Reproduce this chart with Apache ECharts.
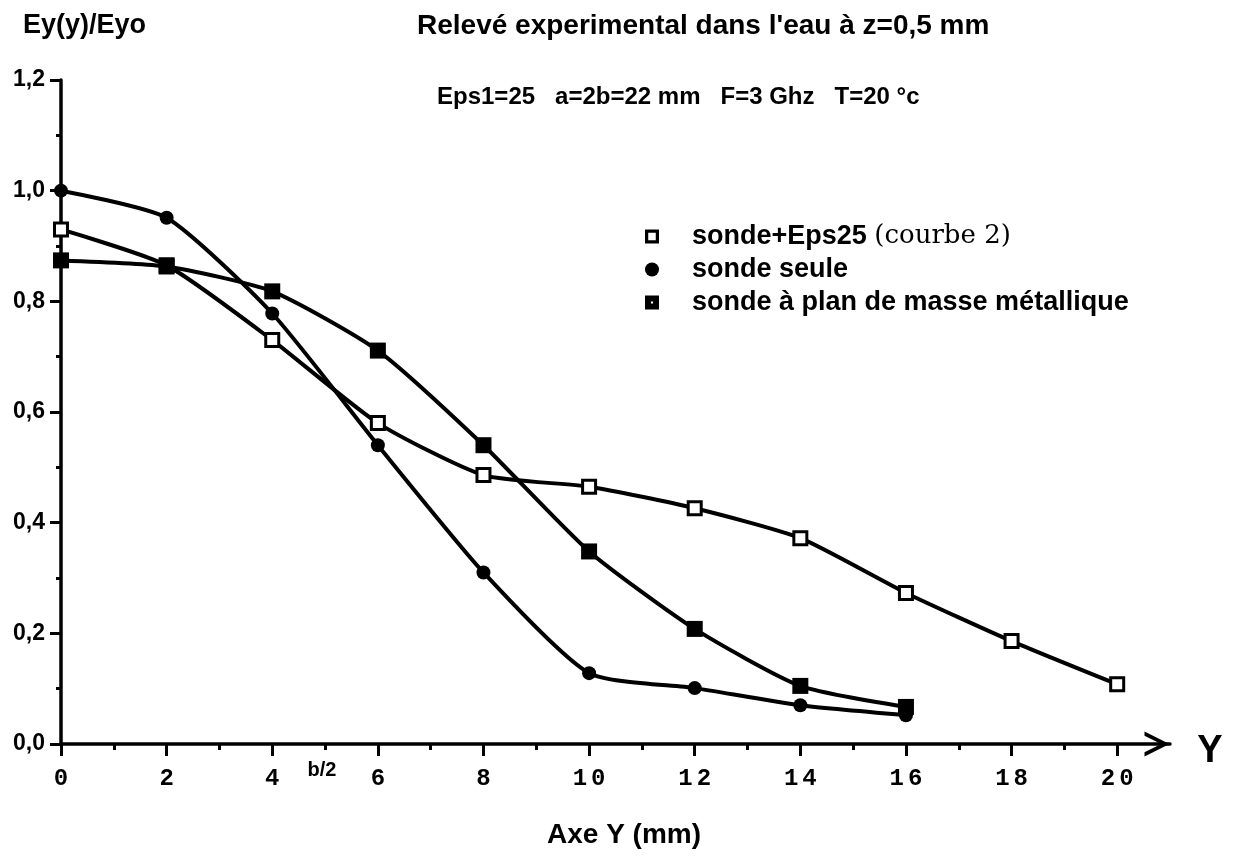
<!DOCTYPE html>
<html>
<head>
<meta charset="utf-8">
<script src="https://cdn.jsdelivr.net/npm/echarts@6/dist/echarts.min.js"></script>
<style>html,body{margin:0;padding:0;background:#fff}#c{width:1236px;height:862px}</style>
</head>
<body>
<div id="c"></div>
<script>
// ---- data ----
var xEps25 = [0, 2, 4, 6, 8, 10, 12, 14, 16, 18, 20];
var yEps25 = [0.93, 0.865, 0.73, 0.58, 0.486, 0.465, 0.426, 0.372, 0.273, 0.186, 0.108];
var xSeule = [0, 2, 4, 6, 8, 10, 12, 14, 16];
var ySeule = [1.0, 0.951, 0.778, 0.54, 0.31, 0.128, 0.101, 0.07, 0.052];
var xPlan = [0, 2, 4, 6, 8, 10, 12, 14, 16];
var yPlan = [0.874, 0.863, 0.818, 0.711, 0.54, 0.348, 0.208, 0.105, 0.067];
var seriesNames = ['sonde+Eps25', 'sonde seule', 'sonde à plan de masse métallique'];
var xTickLabels = [0, 2, 4, 6, 8, 10, 12, 14, 16, 18, 20];
var xMinorTicks = [1, 3, 5, 7, 9, 11, 13, 15, 17, 19];
var titleText = "Relevé experimental dans l'eau à z=0,5 mm";
var subText = 'Eps1=25   a=2b=22 mm   F=3 Ghz   T=20 °c';
var yName = 'Ey(y)/Eyo';
var xName = 'Axe Y (mm)';
var courbeNote = '(courbe 2)';
var halfB = 'b/2';
var axisEndName = 'Y';

function pairs(xs, ys) { return xs.map(function (x, i) { return [x, ys[i]]; }); }

var sans = 'Liberation Sans, Arial, sans-serif';
var mono = 'Liberation Mono, Courier New, monospace';
var chart = echarts.init(document.getElementById('c'), null, { renderer: 'canvas' });

var openIcon = 'path://M0,0H13V13H0Z M3,3V10H10V3Z';
var plateIcon = 'path://M0,0H13V13H0Z M5.5,5.5V7.5H7.5V5.5Z';
var chevron = 'path://M12,0 L24,24 L20,24 L12,8 L4,24 L0,24 Z';

var option = {
  animation: false,
  backgroundColor: '#fff',
  title: [
    { text: titleText, left: 417, top: 12, padding: 0, textStyle: { fontFamily: sans, fontWeight: 'bold', fontSize: 28, color: '#000' } },
    { text: subText, left: 437, top: 85, padding: 0, textStyle: { fontFamily: sans, fontWeight: 'bold', fontSize: 24, color: '#000' } },
    { text: yName, left: 23, top: 12, padding: 0, textStyle: { fontFamily: sans, fontWeight: 'bold', fontSize: 27, color: '#000' } },
    { text: xName, left: 547, top: 821, padding: 0, textStyle: { fontFamily: sans, fontWeight: 'bold', fontSize: 28, color: '#000' } }
  ],
  legend: {
    orient: 'vertical',
    left: 645,
    top: 223,
    padding: 0,
    itemGap: 6,
    itemWidth: 14,
    itemHeight: 14,
    selectedMode: false,
    itemStyle: { color: '#000', borderWidth: 0 },
    textStyle: {
      fontFamily: sans, fontWeight: 'bold', fontSize: 27, color: '#000', padding: [0, 0, 0, 28],
      rich: {
        a: { fontFamily: sans, fontWeight: 'bold', fontSize: 27, color: '#000' },
        b: { fontFamily: 'DejaVu Serif, serif', fontWeight: 'normal', fontSize: 26, color: '#000' }
      }
    },
    formatter: function (name) {
      if (name === seriesNames[0]) return '{a|' + name + '} {b|' + courbeNote + '}';
      return name;
    },
    data: [
      { name: seriesNames[0], icon: openIcon, itemStyle: { color: '#000', borderWidth: 0 } },
      { name: seriesNames[1], icon: 'circle', itemStyle: { color: '#000', borderWidth: 0 } },
      { name: seriesNames[2], icon: plateIcon, itemStyle: { color: '#000', borderWidth: 0 } }
    ]
  },
  grid: { left: 61, top: 80, right: 66, bottom: 118, containLabel: false },
  xAxis: [
    {
      type: 'value', min: 0, max: 21, interval: 1,
      axisLine: { show: true, lineStyle: { color: '#000', width: 3.5 }, symbol: ['none', chevron], symbolSize: [25, 27], symbolOffset: [0, -13] },
      axisTick: { show: true, customValues: xTickLabels, length: 12, lineStyle: { color: '#000', width: 3 } },
      axisLabel: {
        show: true, customValues: xTickLabels, margin: 23, fontFamily: mono, fontWeight: 'bold', fontSize: 24, color: '#000',
        formatter: function (v) { return String(v).split('').map(function (c) { return '{d|' + c + '}'; }).join(''); },
        rich: { d: { fontFamily: mono, fontWeight: 'bold', fontSize: 24, color: '#000', padding: [0, 2, 0, 2] } }
      },
      splitLine: { show: false }
    },
    {
      type: 'value', min: 0, max: 21, interval: 1, position: 'bottom', gridIndex: 0,
      axisLine: { show: false },
      axisTick: { show: true, customValues: xMinorTicks, length: 6, lineStyle: { color: '#000', width: 3 } },
      axisLabel: { show: false },
      splitLine: { show: false }
    }
  ],
  yAxis: {
    type: 'value', min: 0, max: 1.2, interval: 0.2,
    axisLine: { show: true, lineStyle: { color: '#000', width: 3.5 } },
    axisTick: { show: true, length: 11, lineStyle: { color: '#000', width: 3 } },
    minorTick: { show: true, splitNumber: 2, length: 5, lineStyle: { color: '#000', width: 3 } },
    axisLabel: {
      margin: 16, fontFamily: sans, fontWeight: 'bold', fontSize: 23, color: '#000',
      formatter: function (v) { return v.toFixed(1).replace('.', ','); }
    },
    splitLine: { show: false }
  },
  series: [
    {
      name: seriesNames[0], type: 'line', data: pairs(xEps25, yEps25), smooth: 0.2,
      symbol: 'rect', symbolSize: 13,
      lineStyle: { color: '#000', width: 4 },
      itemStyle: { color: '#fff', borderColor: '#000', borderWidth: 3 }, z: 2
    },
    {
      name: seriesNames[1], type: 'line', data: pairs(xSeule, ySeule), smooth: 0.2,
      symbol: 'circle', symbolSize: 14,
      lineStyle: { color: '#000', width: 4 },
      itemStyle: { color: '#000', borderWidth: 0 }, z: 3
    },
    {
      name: seriesNames[2], type: 'line', data: pairs(xPlan, yPlan), smooth: 0.2,
      symbol: 'rect', symbolSize: 16,
      lineStyle: { color: '#000', width: 4 },
      itemStyle: { color: '#000', borderWidth: 0 }, z: 4
    }
  ]
};
chart.setOption(option);

var x5 = chart.convertToPixel({ xAxisIndex: 0 }, 5);
var xEnd = chart.convertToPixel({ xAxisIndex: 0 }, 21);
var y0 = chart.convertToPixel({ yAxisIndex: 0 }, 0);
chart.setOption({
  graphic: [
    { type: 'text', x: x5 - 3, y: y0 + 26, style: { text: halfB, font: 'bold 20px ' + sans, fill: '#000', textAlign: 'center', textVerticalAlign: 'middle' } },
    { type: 'text', x: xEnd + 40, y: y0 + 8, style: { text: axisEndName, font: 'bold 38px ' + sans, fill: '#000', textAlign: 'center', textVerticalAlign: 'middle' } }
  ]
});
</script>
</body>
</html>
